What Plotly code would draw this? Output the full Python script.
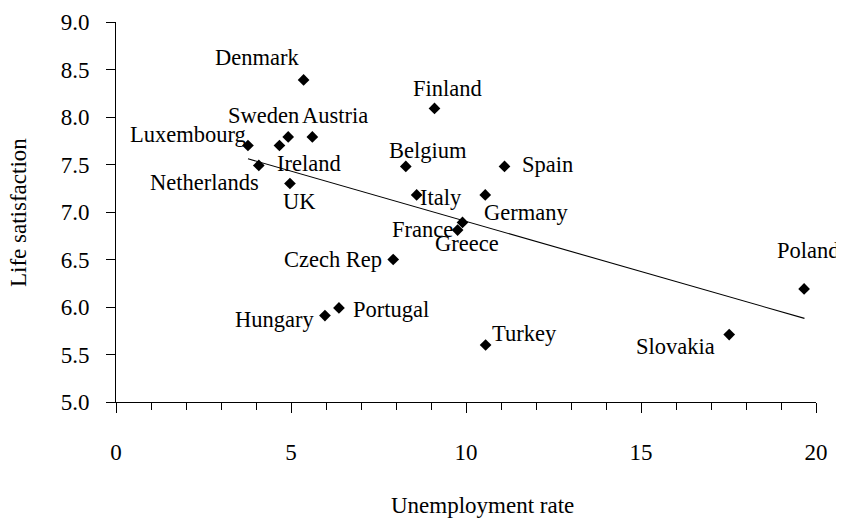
import plotly.graph_objects as go

countries = ["Denmark", "Luxembourg", "Ireland", "Sweden", "Austria", "Netherlands", "UK",
             "Belgium", "Italy", "Finland", "Spain", "Germany", "Greece", "France",
             "Czech Rep", "Portugal", "Hungary", "Turkey", "Slovakia", "Poland"]
unemployment = [5.36, 3.77, 4.67, 4.92, 5.61, 4.08, 4.97,
                8.28, 8.59, 9.10, 11.10, 10.55, 9.90, 9.76,
                7.92, 6.37, 5.97, 10.56, 17.52, 19.66]
life_satisfaction = [8.39, 7.70, 7.70, 7.79, 7.79, 7.49, 7.30,
                     7.48, 7.18, 8.09, 7.48, 7.18, 6.89, 6.81,
                     6.50, 5.99, 5.91, 5.60, 5.71, 6.19]

trend_x = [3.77, 19.67]
trend_y = [7.56, 5.88]

x_ticks = [0, 5, 10, 15, 20]
y_ticks = [5.0, 5.5, 6.0, 6.5, 7.0, 7.5, 8.0, 8.5, 9.0]

# label offsets in pixels (dx right, dy down) relative to each point
label_offsets = {
    "Denmark": (-47, -22), "Luxembourg": (-60, -11), "Ireland": (30, 18),
    "Sweden": (-25, -21), "Austria": (23, -21), "Netherlands": (-54, 17),
    "UK": (10, 18), "Belgium": (22, -16), "Italy": (24, 3), "Finland": (13, -20),
    "Spain": (43, -2), "Germany": (41, 18), "Greece": (4, 21), "France": (-35, -1),
    "Czech Rep": (-60, 0), "Portugal": (52, 2), "Hungary": (-50, 4),
    "Turkey": (39, -12), "Slovakia": (-54, 12), "Poland": (4, -38),
}

FONT = "Liberation Serif"
LABEL_SIZE = 22.5
AXIS_SIZE = 23

PAGE = 8  # default page body margin of the html page
L, R, T, B = 116 - PAGE, 28, 22 - PAGE, 116
W, H = 844 - PAGE, 518 - PAGE
plot_w = W - L - R
plot_h = H - T - B

fig = go.Figure()
fig.add_trace(go.Scatter(x=trend_x, y=trend_y, mode="lines",
                         line=dict(color="black", width=1.1), hoverinfo="skip"))
fig.add_trace(go.Scatter(x=unemployment, y=life_satisfaction, mode="markers",
                         marker=dict(symbol="diamond", size=9, color="black"),
                         text=countries))

annotations = []
for c, xv, yv in zip(countries, unemployment, life_satisfaction):
    dx, dy = label_offsets[c]
    annotations.append(dict(x=xv, y=yv, xref="x", yref="y", text=c, showarrow=False,
                            xanchor="center", yanchor="middle", xshift=dx, yshift=-dy,
                            font=dict(family=FONT, size=LABEL_SIZE, color="black")))

annotations.append(dict(x=(482 - 116) / plot_w, y=(518 - 116 - 505) / plot_h, xref="paper", yref="paper",
                        text="Unemployment rate", showarrow=False, xanchor="center", yanchor="middle",
                        font=dict(family=FONT, size=AXIS_SIZE, color="black")))
annotations.append(dict(x=(18 - 116) / plot_w, y=(518 - 116 - 212) / plot_h, xref="paper", yref="paper",
                        text="Life satisfaction", showarrow=False, textangle=-90,
                        xanchor="center", yanchor="middle",
                        font=dict(family=FONT, size=AXIS_SIZE, color="black")))

fig.update_layout(
    width=W, height=H,
    margin=dict(l=L, r=R, t=T, b=B),
    paper_bgcolor="white", plot_bgcolor="white",
    showlegend=False,
    font=dict(family=FONT, size=AXIS_SIZE, color="black"),
    annotations=annotations,
)

fig.update_xaxes(range=[0, 20], tickvals=x_ticks, ticks="outside", ticklen=10,
                 tickcolor="black", tickwidth=1, showline=True, linecolor="black",
                 linewidth=1, showgrid=False, zeroline=False, ticklabelstandoff=19,
                 automargin=False,
                 minor=dict(dtick=1, ticks="outside", ticklen=7, tickcolor="black", showgrid=False),
                 tickfont=dict(family=FONT, size=AXIS_SIZE))
fig.update_yaxes(range=[5, 9], tickvals=y_ticks, tickformat=".1f", ticks="outside", ticklen=9,
                 tickcolor="black", tickwidth=1, showline=True, linecolor="black",
                 linewidth=1, showgrid=False, zeroline=False, ticklabelstandoff=12,
                 automargin=False,
                 tickfont=dict(family=FONT, size=AXIS_SIZE))

fig.write_html("out.html")
